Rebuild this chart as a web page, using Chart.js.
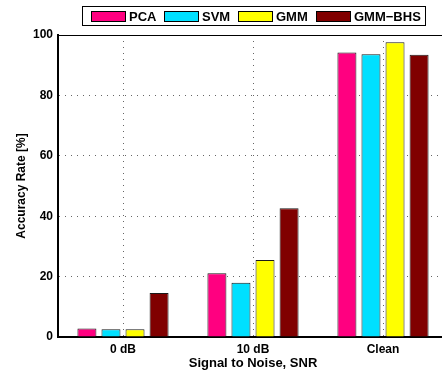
<!DOCTYPE html>
<html>
<head>
<meta charset="utf-8">
<script src="https://cdn.jsdelivr.net/npm/chart.js@4/dist/chart.umd.min.js"></script>
<style>
  html, body { margin: 0; padding: 0; background: #fff; overflow: hidden; }
  #wrap { width: 450px; height: 374px; }
</style>
</head>
<body>
<div id="wrap"><canvas id="acc" width="450" height="374"></canvas></div>
<script>
var categories = ["0 dB", "10 dB", "Clean"];
var seriesNames = ["PCA", "SVM", "GMM", "GMM\u2212BHS"];
var pcaValues = [2.8, 21.1, 94.2];
var svmValues = [2.6, 18.0, 93.6];
var gmmValues = [2.6, 25.5, 97.6];
var bhsValues = [14.6, 42.6, 93.5];
var yTicks = [0, 20, 40, 60, 80, 100];
var barColors = ["#ff0080", "#00e0ff", "#ffff00", "#800000"];

var font = "Liberation Sans, Arial, sans-serif";

// legend in a framed box, centred over the plot, plus the top border line
var boxLegend = {
  id: "boxLegend",
  afterDraw: function (chart) {
    var ctx = chart.ctx;
    var area = chart.chartArea;
    ctx.save();
    ctx.strokeStyle = "#000";
    ctx.lineWidth = 1;
    ctx.beginPath();
    ctx.moveTo(area.left, area.top + 0.5);
    ctx.lineTo(area.right, area.top + 0.5);
    ctx.stroke();

    ctx.font = "bold 13px " + font;
    var sw = 35, gap = 3, itemGap = 8, padL = 8, padR = 5;
    var widths = chart.data.datasets.map(function (d) { return ctx.measureText(d.label).width; });
    var total = padL + padR;
    widths.forEach(function (w, i) { total += sw + gap + w + (i > 0 ? itemGap : 0); });
    total = Math.round(total);
    var left = Math.round((area.left + area.right) / 2 - total / 2) + 0.5;
    var top = 6.5, h = 19;
    ctx.fillStyle = "#fff";
    ctx.fillRect(left, top, total, h);
    ctx.strokeRect(left, top, total, h);
    var x = Math.round(left + padL);
    chart.data.datasets.forEach(function (d, i) {
      ctx.fillStyle = d.backgroundColor;
      ctx.fillRect(x, 11, sw, 11);
      ctx.strokeRect(x + 0.5, 11.5, sw - 1, 10);
      ctx.fillStyle = "#000";
      ctx.textBaseline = "middle";
      ctx.textAlign = "left";
      ctx.fillText(d.label, x + sw + gap, 17);
      x = Math.round(x + sw + gap + widths[i] + itemGap);
    });
    ctx.restore();
  }
};

new Chart("acc", {
  type: "bar",
  data: {
    labels: categories,
    datasets: [
      { label: seriesNames[0], data: pcaValues, backgroundColor: barColors[0] },
      { label: seriesNames[1], data: svmValues, backgroundColor: barColors[1] },
      { label: seriesNames[2], data: gmmValues, backgroundColor: barColors[2] },
      { label: seriesNames[3], data: bhsValues, backgroundColor: barColors[3] }
    ]
  },
  options: {
    responsive: false,
    animation: false,
    layout: { padding: { top: 35, right: 2, left: 0, bottom: 0 } },
    datasets: {
      bar: {
        borderColor: "#1a1a1a",
        borderWidth: 1,
        categoryPercentage: 0.74,
        barPercentage: 0.79
      }
    },
    plugins: {
      legend: { display: false },
      tooltip: { enabled: false }
    },
    scales: {
      x: {
        grid: {
          offset: false,
          drawTicks: false,
          color: "#666",
          lineWidth: 1
        },
        border: { display: true, color: "#000", width: 2, dash: [1, 5] },
        ticks: {
          color: "#000",
          padding: 5,
          font: { family: font, size: 12, weight: "bold" }
        },
        title: {
          display: true,
          text: "Signal to Noise, SNR",
          color: "#000",
          padding: { top: 0, bottom: 3 },
          font: { family: font, size: 13, weight: "bold" }
        },
        afterFit: function (s) { s.height = 37; }
      },
      y: {
        min: 0,
        max: 100,
        afterBuildTicks: function (s) {
          s.ticks = yTicks.map(function (v) { return { value: v }; });
        },
        grid: {
          drawTicks: false,
          color: function (c) {
            return (c.tick && (c.tick.value === 0 || c.tick.value === 100)) ? "rgba(0,0,0,0)" : "#666";
          },
          lineWidth: 1
        },
        border: { display: true, color: "#000", width: 2, dash: [1, 5] },
        ticks: {
          color: "#000",
          padding: 5,
          font: { family: font, size: 12, weight: "bold" }
        },
        title: {
          display: true,
          text: "Accuracy Rate [%]",
          color: "#000",
          padding: { top: 14, bottom: 0 },
          font: { family: font, size: 12, weight: "bold" }
        },
        afterFit: function (s) { s.width = 58; }
      }
    }
  },
  plugins: [boxLegend]
});
</script>
</body>
</html>
